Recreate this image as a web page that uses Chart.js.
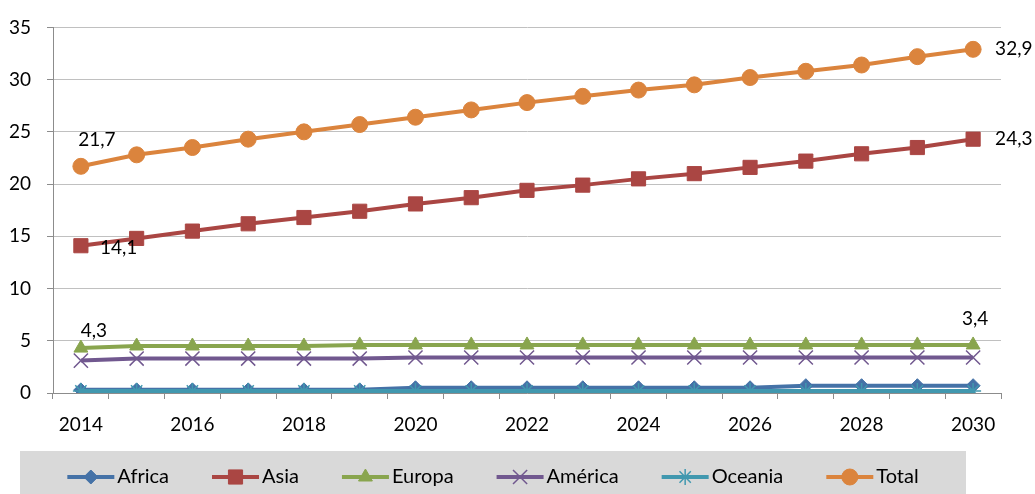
<!DOCTYPE html>
<html>
<head>
<meta charset="utf-8">
<script src="https://cdn.jsdelivr.net/npm/chart.js@4.4.0/dist/chart.umd.min.js"></script>
<style>
html,body{margin:0;padding:0;background:#fff;}
#wrap{width:1035px;height:494px;position:relative;}
</style>
</head>
<body>
<div id="wrap"><canvas id="c" width="1035" height="494"></canvas></div>
<script>
const years = ['2014','2015','2016','2017','2018','2019','2020','2021','2022','2023','2024','2025','2026','2027','2028','2029','2030'];
const africa  = [0.3,0.3,0.3,0.3,0.3,0.3,0.5,0.5,0.5,0.5,0.5,0.5,0.5,0.7,0.7,0.7,0.7];
const asia    = [14.1,14.8,15.5,16.2,16.8,17.4,18.1,18.7,19.4,19.9,20.5,21.0,21.6,22.2,22.9,23.5,24.3];
const europa  = [4.3,4.5,4.5,4.5,4.5,4.6,4.6,4.6,4.6,4.6,4.6,4.6,4.6,4.6,4.6,4.6,4.6];
const america = [3.1,3.3,3.3,3.3,3.3,3.3,3.4,3.4,3.4,3.4,3.4,3.4,3.4,3.4,3.4,3.4,3.4];
const oceania = [0.2,0.2,0.2,0.2,0.2,0.2,0.2,0.2,0.2,0.2,0.2,0.2,0.2,0.2,0.2,0.2,0.2];
const total   = [21.7,22.8,23.5,24.3,25.0,25.7,26.4,27.1,27.8,28.4,29.0,29.5,30.2,30.8,31.4,32.2,32.9];
const seriesNames = ['Africa','Asia','Europa','América','Oceania','Total'];
const yTicks = [0,5,10,15,20,25,30,35];

const FONT = 'Lato';

// which points carry a value label: [datasetIndex, pointIndex]
const labelPoints = [[5,0],[5,16],[1,0],[1,16],[2,0],[3,16]];
// label placement (style only)
const labelStyle = {
  '5-0':  {dx:16, dy:-26, align:'center'},
  '5-16': {dx:22, dy:0,   align:'left'},
  '1-0':  {dx:19, dy:2,   align:'left'},
  '1-16': {dx:22, dy:0,   align:'left'},
  '2-0':  {dx:13, dy:-17, align:'center'},
  '3-16': {dx:2,  dy:-39, align:'center'}
};

function mk(label, data, color, style, radius, bw, order, legendRadius){
  return {
    label, data, order,
    borderColor: color, backgroundColor: color,
    pointBackgroundColor: color, pointBorderColor: color,
    pointStyle: style, pointRadius: radius, pointBorderWidth: bw,
    borderWidth: 4, tension: 0, fill: false,
    legendRadius
  };
}

const datasets = [
  mk(seriesNames[0], africa,  '#4572a7', 'rectRot',  7, 1,   6, 7),
  mk(seriesNames[1], asia,    '#aa4643', 'rect',    10, 1,   5, 10),
  mk(seriesNames[2], europa,  '#89a54e', 'triangle', 8, 1,   4, 8),
  mk(seriesNames[3], america, '#71588f', 'crossRot', 10, 1.5, 3, 10),
  mk(seriesNames[4], oceania, '#4198af', 'star',     8, 1.5, 2, 8),
  mk(seriesNames[5], total,   '#db843d', 'circle',   8, 1,   1, 8)
];

function fmt(v){ return v.toFixed(1).replace('.', ','); }

const valueLabels = {
  id: 'valueLabels',
  afterDatasetsDraw(chart){
    const ctx = chart.ctx;
    ctx.save();
    ctx.font = '19px ' + FONT;
    ctx.fillStyle = '#000';
    ctx.textBaseline = 'middle';
    labelPoints.forEach(([di, pi]) => {
      const el = chart.getDatasetMeta(di).data[pi];
      const st = labelStyle[di + '-' + pi];
      ctx.textAlign = st.align;
      ctx.fillText(fmt(chart.data.datasets[di].data[pi]), el.x + st.dx, el.y + st.dy);
    });
    ctx.restore();
  }
};

function drawMarker(ctx, style, r, bw, x, y){
  if (Chart.helpers && Chart.helpers.drawPoint) {
    Chart.helpers.drawPoint(ctx, {pointStyle: style, radius: r, borderWidth: bw, rotation: 0}, x, y);
  }
}

const boxLegend = {
  id: 'boxLegend',
  afterDraw(chart){
    const ctx = chart.ctx;
    const top = chart.height - 43, h = 43;
    const bx = 20, bw = 946;
    ctx.save();
    ctx.fillStyle = '#d9d9d9';
    ctx.fillRect(bx, top, bw, h);
    ctx.font = '20px ' + FONT;
    const lineW = 47, gapT = 3, gapI = 43;
    const items = chart.data.datasets.map(ds => ({ds, w: lineW + gapT + ctx.measureText(ds.label).width}));
    const tot = items.reduce((a, b) => a + b.w, 0) + gapI * (items.length - 1);
    let x = bx + (bw - tot) / 2;
    const cy = top + 26;
    items.forEach(it => {
      const ds = it.ds;
      ctx.strokeStyle = ds.borderColor;
      ctx.lineWidth = 4;
      ctx.beginPath();
      ctx.moveTo(x, cy); ctx.lineTo(x + lineW, cy);
      ctx.stroke();
      ctx.fillStyle = ds.pointBackgroundColor;
      ctx.strokeStyle = ds.pointBorderColor;
      ctx.lineWidth = ds.pointBorderWidth;
      drawMarker(ctx, ds.pointStyle, ds.legendRadius, ds.pointBorderWidth, x + lineW / 2, cy);
      ctx.fillStyle = '#000';
      ctx.textAlign = 'left';
      ctx.textBaseline = 'middle';
      ctx.fillText(ds.label, x + lineW + gapT, cy);
      x += it.w + gapI;
    });
    ctx.restore();
  }
};

new Chart(document.getElementById('c'), {
  type: 'line',
  data: { labels: years, datasets },
  options: {
    responsive: false,
    animation: false,
    devicePixelRatio: 1,
    layout: { padding: { left: 0, right: 34, top: 23, bottom: 44 } },
    plugins: { legend: { display: false }, tooltip: { enabled: false } },
    scales: {
      x: {
        type: 'category',
        offset: true,
        grid: { offset: true, drawOnChartArea: false, drawTicks: true, tickLength: 6, color: '#8c8c8c' },
        border: { color: '#8c8c8c', width: 1 },
        ticks: {
          autoSkip: false, maxRotation: 0, minRotation: 0,
          color: '#000', font: { family: FONT, size: 19 }, padding: 14,
          callback: (v, i) => (i % 2 === 0 ? years[i] : '')
        },
        afterFit: s => { s.height = 57; }
      },
      y: {
        min: yTicks[0], max: yTicks[yTicks.length - 1],
        afterBuildTicks: s => { s.ticks = yTicks.map(v => ({ value: v })); },
        grid: { color: '#c0c0c0', tickColor: '#8c8c8c', tickLength: 6, lineWidth: 1 },
        border: { color: '#8c8c8c', width: 1 },
        ticks: { color: '#000', font: { family: FONT, size: 19 }, padding: 16 },
        afterFit: s => { s.width = 53; }
      }
    }
  },
  plugins: [valueLabels, boxLegend]
});
</script>
</body>
</html>
